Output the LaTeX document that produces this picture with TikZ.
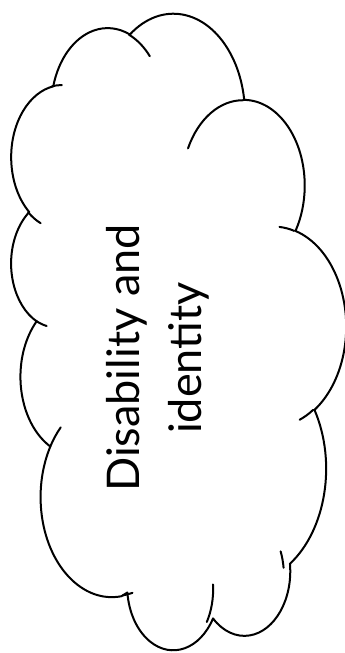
\documentclass[tikz,border=0pt]{standalone}
\usepackage{fontspec}
\setmainfont{Lato}
% visual (OOXML) angle -> parametric angle, unwrapped
\newcommand\cvt[3]{round(atand((#1)*sind(#3),(#2)*cosd(#3))+360*round(((#3)-atand((#1)*sind(#3),(#2)*cosd(#3)))/360),4)}
\newcommand\carcE[4]{ arc[x radius=\fpeval{#1/100}, y radius=\fpeval{#2/100}, start angle=\fpeval{\cvt{#1}{#2}{(#3/60000)}}, end angle=\fpeval{\cvt{#1}{#2}{((#3+#4)/60000)}}]}
\edef\cloudpath{(39,143.70)
 \carcE{6753}{9190}{-11429249}{7426832}
 \carcE{5333}{7267}{-8646143}{5396714}
 \carcE{4365}{5945}{-8748475}{5983381}
 \carcE{4857}{6595}{-7859164}{7034504}
 \carcE{5333}{7273}{-4722533}{6541615}
 \carcE{6775}{9220}{-2776035}{7816140}
 \carcE{5785}{7867}{37501}{6842000}
 \carcE{6752}{9215}{1347096}{6910353}
 \carcE{7720}{10543}{3974558}{4275610}
 \carcE{4360}{5918}{-16496525}{8804134}
 \carcE{4345}{5945}{-14809710}{9151131}}
\edef\tickpath{
 (46.93,261.77) \carcE{4345}{5945}{5204520}{1585770}
 (69.28,348.99) \carcE{4360}{5918}{4416628}{686848}
 (164.78,390.90) \carcE{6752}{9215}{8257449}{844866}
 (288.27,347.51) \carcE{6752}{9215}{387196}{959901}
 (341.29,229.54) \carcE{5785}{7867}{-4217541}{4255042}
 (417.98,153.54) \carcE{5333}{7273}{1819082}{1665090}
 (383.24,54.26) \carcE{4857}{6595}{-824660}{891534}
 (290.78,39.52) \carcE{4857}{6595}{-8950887}{1091722}
 (221.41,47.20) \carcE{4365}{5945}{-9809656}{1061181}
 (140.00,51.92) \carcE{6753}{9190}{-4002417}{739161}
 (41.27,157.89) \carcE{6753}{9190}{9639195}{631131}}
\begin{document}
\begin{tikzpicture}[x=1pt,y=1pt,
  cloudline/.style={draw=black,line width=2pt,line join=round,line cap=round},
  lbl/.style={rotate=90,align=center,font=\fontsize{45}{62}\selectfont}]
\useasboundingbox (0,0) rectangle (345,-653);
\begin{scope}[cm={0,640/432,335/432,0,(10pt,-654pt)}]
  \draw[cloudline,fill=white] \cloudpath -- cycle;
  \draw[cloudline] \tickpath;
\end{scope}
\node[lbl] (title) at (158,-358) {Disability and\\identity};
\end{tikzpicture}
\end{document}
